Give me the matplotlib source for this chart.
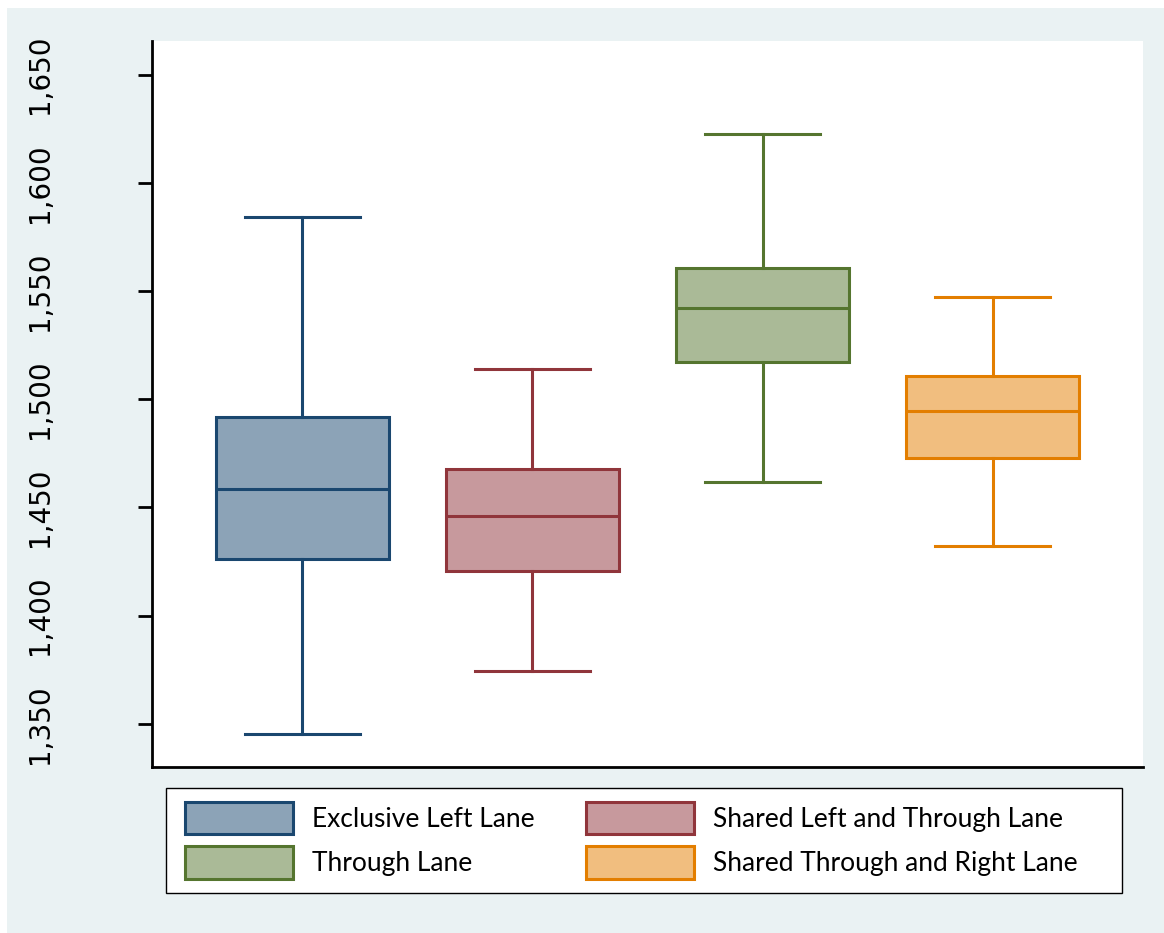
import matplotlib.pyplot as plt
from matplotlib.patches import Rectangle, Patch

plt.rcParams["font.family"] = "DejaVu Sans"

# five-number summaries per lane type
lanes = ["Exclusive Left Lane", "Shared Left and Through Lane",
         "Through Lane", "Shared Through and Right Lane"]
whislo = [1345.4, 1374.5, 1461.7, 1432.2]
q1 = [1426.2, 1420.6, 1517.1, 1472.8]
med = [1458.5, 1446.0, 1542.0, 1494.5]
q3 = [1491.7, 1467.7, 1560.5, 1510.6]
whishi = [1584.0, 1513.8, 1622.3, 1547.1]

edge_colors = ["#1A476F", "#90353B", "#55752F", "#E37E00"]
fill_colors = ["#8CA3B7", "#C7999D", "#AABA97", "#F1BE7F"]
bg = "#EAF2F3"

fig = plt.figure(figsize=(11.64, 9.33), dpi=100, facecolor="white")
W, H = 1164, 933
fig.patches.append(Rectangle((7 / W, 0), 1, 1 - 8 / H, transform=fig.transFigure,
                             facecolor=bg, edgecolor="none", zorder=-10))

ax = fig.add_axes([152 / W, 1 - 767 / H, (1143 - 152) / W, (767 - 41) / H])
ax.set_facecolor("white")

stats = []
for i in range(4):
    stats.append(dict(med=med[i], q1=q1[i], q3=q3[i],
                      whislo=whislo[i], whishi=whishi[i], fliers=[]))

positions = [1, 2, 3, 4]
for i in range(4):
    lw = 2.2
    ax.bxp([stats[i]], positions=[positions[i]], widths=0.75, patch_artist=True,
           showfliers=False,
           boxprops=dict(facecolor=fill_colors[i], edgecolor=edge_colors[i], linewidth=lw),
           medianprops=dict(color=edge_colors[i], linewidth=lw),
           whiskerprops=dict(color=edge_colors[i], linewidth=lw),
           capprops=dict(color=edge_colors[i], linewidth=lw),
           capwidths=0.5)

ax.set_xlim(0.346, 4.654)
ax.set_ylim(1330, 1665.5)
ax.set_yticks([1350, 1400, 1450, 1500, 1550, 1600, 1650])
ax.set_yticklabels(["1,350", "1,400", "1,450", "1,500", "1,550", "1,600", "1,650"],
                   rotation=90, va="center", ha="left", fontsize=20)
ax.set_xticks([])
ax.tick_params(axis="y", direction="out", length=10, width=2, pad=0)
# push the rotated labels out to the left edge of the panel
for lbl in ax.get_yticklabels():
    lbl.set_x(-(152 - 26) / (1143 - 152))
    lbl.set_transform(ax.get_yaxis_transform())
for s in ["top", "right"]:
    ax.spines[s].set_visible(False)
ax.spines["left"].set_linewidth(2)
ax.spines["bottom"].set_linewidth(2)

# legend frame and entries
fig.patches.append(Rectangle((166 / W, 1 - 893 / H), (1122 - 166) / W, (893 - 788) / H,
                             transform=fig.transFigure, facecolor="white",
                             edgecolor="black", linewidth=1.0, zorder=1))
order = [0, 2, 1, 3]
handles = [Patch(facecolor=fill_colors[i], edgecolor=edge_colors[i], linewidth=2.2)
           for i in order]
labels = [lanes[i] for i in order]
fig.legend(handles, labels, ncol=2, loc="upper left",
           bbox_to_anchor=(185 / W, 1 - 802 / H), frameon=False,
           prop={"family": "Lato", "size": 19},
           handlelength=4.1, handleheight=1.5, handletextpad=0.72,
           columnspacing=1.93, labelspacing=0.46, borderpad=0, borderaxespad=0)

fig.savefig("out.png", dpi=100, facecolor=fig.get_facecolor())
